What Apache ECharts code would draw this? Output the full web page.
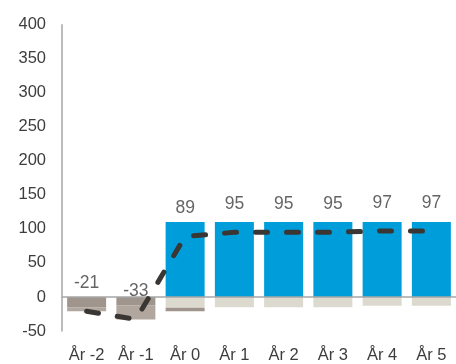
<!DOCTYPE html>
<html><head><meta charset="utf-8">
<script src="https://cdn.jsdelivr.net/npm/echarts@6/dist/echarts.min.js"></script>
<style>html,body{margin:0;padding:0;background:#fff}#c{width:456px;height:364px}</style>
</head><body><div id="c"></div>
<script>
var categories = ['År -2','År -1','År 0','År 1','År 2','År 3','År 4','År 5'];
var blueVals  = [null, null, 110, 110, 110, 110, 110, 110];
var beigeVals = [null, null, -16, -15, -15, -15, -13, -13];
var darkVals  = [-15, -12, -5, null, null, null, null, null];
var lightVals = [-6, -21, null, null, null, null, null, null];
var lineVals  = [-21, -33, 89, 95, 95, 95, 97, 97];
var yTicks = {min: -50, max: 400, interval: 50};

var font = 'Liberation Sans, Arial, sans-serif';
var chart = echarts.init(document.getElementById('c'));
function bar(name, data, color){
  return {name:name, type:'bar', stack:'t', data:data, barWidth:39,
    itemStyle:{color:color}, xAxisIndex:0, yAxisIndex:0, z:2};
}
chart.setOption({
  animation:false,
  grid:{left:62, top:24.7, width:400, height:307.8, containLabel:false},
  xAxis:[
    {type:'category', data:categories, axisLine:{show:true, onZero:true, lineStyle:{color:'#a6a6a6', width:1.5}},
     axisTick:{show:false}, axisLabel:{show:false}, z:3},
    {type:'category', data:categories, position:'bottom', axisLine:{show:false, onZero:false}, axisTick:{show:false},
     axisLabel:{color:'#3d3d3d', fontSize:16.5, fontFamily:font, margin:16}}
  ],
  yAxis:{type:'value', min:yTicks.min, max:yTicks.max, interval:yTicks.interval,
    axisLine:{show:true, lineStyle:{color:'#a6a6a6', width:1.5}}, axisTick:{show:false}, splitLine:{show:false},
    axisLabel:{color:'#3d3d3d', fontSize:16.5, fontFamily:font, margin:16}},
  series:[
    bar('blue', blueVals, '#009ddb'),
    bar('beige', beigeVals, '#dcd9ce'),
    bar('dark', darkVals, '#a0958c'),
    bar('light', lightVals, '#b1a79e'),
    {type:'line', data:lineVals, symbol:'none', z:5,
     lineStyle:{color:'#3a3633', width:5, type:[12,19], cap:'round'}},
    {type:'scatter', data:lineVals, symbolSize:2, itemStyle:{color:'rgba(0,0,0,0)'}, z:6,
     label:{show:true, position:'top', distance:18, color:'#3d3d3d', fontSize:17.5, fontFamily:font,
       formatter:function(p){return String(p.value);}}}
  ]
});
</script></body></html>
